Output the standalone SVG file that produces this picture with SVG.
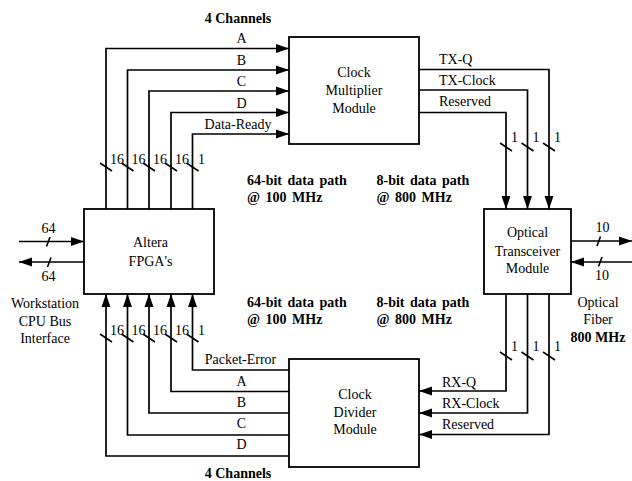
<svg xmlns="http://www.w3.org/2000/svg" width="632" height="481" viewBox="0 0 632 481">
<style>
text{font-family:"Liberation Serif","Times New Roman",serif;font-size:14px;fill:#000}
.b{font-weight:bold}
.m{text-anchor:middle}
.box{fill:#fff;stroke:#000;stroke-width:1.8}
.w{fill:none;stroke:#000;stroke-width:1.7}
.s{stroke:#000;stroke-width:1.6}
</style>
<defs>
<marker id="arr" markerUnits="userSpaceOnUse" markerWidth="14" markerHeight="10" refX="13" refY="5" orient="auto">
<path d="M0,0.5 L13,5 L0,9.5 z" fill="#000"/>
</marker>
</defs>
<rect width="632" height="481" fill="#fff"/>

<g id="connectors">
<path class="w" d="M106,209 V48.5 H289" marker-end="url(#arr)"/>
<path class="w" d="M127.5,209 V70 H289" marker-end="url(#arr)"/>
<path class="w" d="M149,209 V91 H289" marker-end="url(#arr)"/>
<path class="w" d="M171,209 V112.5 H289" marker-end="url(#arr)"/>
<path class="w" d="M192.5,209 V134 H289" marker-end="url(#arr)"/>

<path class="w" d="M289,370 H192.5 V294" marker-end="url(#arr)"/>
<path class="w" d="M289,391.5 H171 V294" marker-end="url(#arr)"/>
<path class="w" d="M289,413 H149 V294" marker-end="url(#arr)"/>
<path class="w" d="M289,435 H127.5 V294" marker-end="url(#arr)"/>
<path class="w" d="M289,456 H106 V294" marker-end="url(#arr)"/>

<path class="w" d="M419,69.5 H549 V209" marker-end="url(#arr)"/>
<path class="w" d="M419,90 H527.5 V209" marker-end="url(#arr)"/>
<path class="w" d="M419,112.5 H506 V209" marker-end="url(#arr)"/>

<path class="w" d="M506,294 V391 H419" marker-end="url(#arr)"/>
<path class="w" d="M527.5,294 V413 H419" marker-end="url(#arr)"/>
<path class="w" d="M549,294 V434.5 H419" marker-end="url(#arr)"/>

<path class="w" d="M19,241.5 H84" marker-end="url(#arr)"/>
<path class="w" d="M84,262 H19" marker-end="url(#arr)"/>
<path class="w" d="M571,241 H632" marker-end="url(#arr)"/>
<path class="w" d="M632,262 H571" marker-end="url(#arr)"/>

<g id="bus-marks">
<line class="s" x1="100" y1="163" x2="112" y2="171"/>
<line class="s" x1="121.5" y1="163" x2="133.5" y2="171"/>
<line class="s" x1="143" y1="163" x2="155" y2="171"/>
<line class="s" x1="165" y1="163" x2="177" y2="171"/>
<line class="s" x1="186.5" y1="163" x2="198.5" y2="171"/>

<line class="s" x1="100" y1="334" x2="112" y2="342"/>
<line class="s" x1="121.5" y1="334" x2="133.5" y2="342"/>
<line class="s" x1="143" y1="334" x2="155" y2="342"/>
<line class="s" x1="165" y1="334" x2="177" y2="342"/>
<line class="s" x1="186.5" y1="334" x2="198.5" y2="342"/>

<line class="s" x1="500" y1="143" x2="512" y2="151"/>
<line class="s" x1="521.5" y1="143" x2="533.5" y2="151"/>
<line class="s" x1="543" y1="143" x2="555" y2="151"/>

<line class="s" x1="500" y1="352" x2="512" y2="360"/>
<line class="s" x1="521.5" y1="352" x2="533.5" y2="360"/>
<line class="s" x1="543" y1="352" x2="555" y2="360"/>

<line class="s" x1="46.5" y1="246.5" x2="50" y2="237"/>
<line class="s" x1="47.5" y1="267" x2="51" y2="257.5"/>
<line class="s" x1="597" y1="246" x2="600.5" y2="236.5"/>
<line class="s" x1="598.5" y1="266.5" x2="602" y2="257"/>
</g>
</g>

<g id="clock-multiplier">
<rect class="box" x="289" y="37" width="130" height="107"/>
<text class="m" x="354" y="77">Clock</text>
<text class="m" x="354" y="95">Multiplier</text>
<text class="m" x="354" y="112.5">Module</text>
</g>

<g id="altera-fpga">
<rect class="box" x="84" y="209" width="130" height="85"/>
<text class="m" x="150.5" y="247">Altera</text>
<text class="m" x="150.5" y="265.5">FPGA's</text>
</g>

<g id="optical-transceiver">
<rect class="box" x="484" y="209" width="87" height="85"/>
<text class="m" x="527.5" y="237">Optical</text>
<text class="m" x="527.5" y="255.5">Transceiver</text>
<text class="m" x="527.5" y="272.5">Module</text>
</g>

<g id="clock-divider">
<rect class="box" x="289" y="359" width="130" height="108"/>
<text class="m" x="355" y="399">Clock</text>
<text class="m" x="355" y="416.5">Divider</text>
<text class="m" x="355" y="434">Module</text>
</g>

<g id="labels">
<text class="b m" x="238" y="23">4 Channels</text>
<text class="m" x="241.5" y="43">A</text>
<text class="m" x="241.5" y="64.5">B</text>
<text class="m" x="241.5" y="86">C</text>
<text class="m" x="241.5" y="107.5">D</text>
<text class="m" x="238" y="128.5">Data-Ready</text>

<text x="110" y="163.5">16</text>
<text x="131.5" y="163.5">16</text>
<text x="153" y="163.5">16</text>
<text x="175" y="163.5">16</text>
<text x="198" y="163.5">1</text>

<text x="110" y="335">16</text>
<text x="131.5" y="335">16</text>
<text x="153" y="335">16</text>
<text x="175" y="335">16</text>
<text x="198" y="335">1</text>

<text class="m" x="240.5" y="364">Packet-Error</text>
<text class="m" x="241.5" y="385.5">A</text>
<text class="m" x="241.5" y="407">B</text>
<text class="m" x="241.5" y="428">C</text>
<text class="m" x="241.5" y="449">D</text>
<text class="b m" x="238" y="478">4 Channels</text>

<text x="439" y="63.5">TX-Q</text>
<text x="439" y="84.5">TX-Clock</text>
<text x="439" y="106">Reserved</text>
<text x="511" y="142">1</text>
<text x="532.5" y="142">1</text>
<text x="554" y="142">1</text>

<text x="442" y="387">RX-Q</text>
<text x="442" y="408">RX-Clock</text>
<text x="442" y="429">Reserved</text>
<text x="511" y="351">1</text>
<text x="532.5" y="351">1</text>
<text x="554" y="351">1</text>

<text class="b" x="247" y="184.5" word-spacing="2">64-bit data path</text>
<text class="b" x="247" y="201.5" word-spacing="2">@ 100 MHz</text>
<text class="b" x="376.5" y="184.5" word-spacing="2">8-bit data path</text>
<text class="b" x="376.5" y="201.5" word-spacing="2">@ 800 MHz</text>
<text class="b" x="247" y="306.5" word-spacing="2">64-bit data path</text>
<text class="b" x="247" y="324" word-spacing="2">@ 100 MHz</text>
<text class="b" x="376.5" y="306.5" word-spacing="2">8-bit data path</text>
<text class="b" x="376.5" y="324" word-spacing="2">@ 800 MHz</text>

<text class="m" x="48.5" y="233">64</text>
<text class="m" x="48.5" y="281">64</text>
<text class="m" x="45" y="308">Workstation</text>
<text class="m" x="45" y="326">CPU Bus</text>
<text class="m" x="45" y="343">Interface</text>

<text class="m" x="602.5" y="231.5">10</text>
<text class="m" x="602" y="280">10</text>
<text class="m" x="598" y="306.5">Optical</text>
<text class="m" x="598" y="324">Fiber</text>
<text class="b m" x="598" y="341.5">800 MHz</text>
</g>
</svg>
